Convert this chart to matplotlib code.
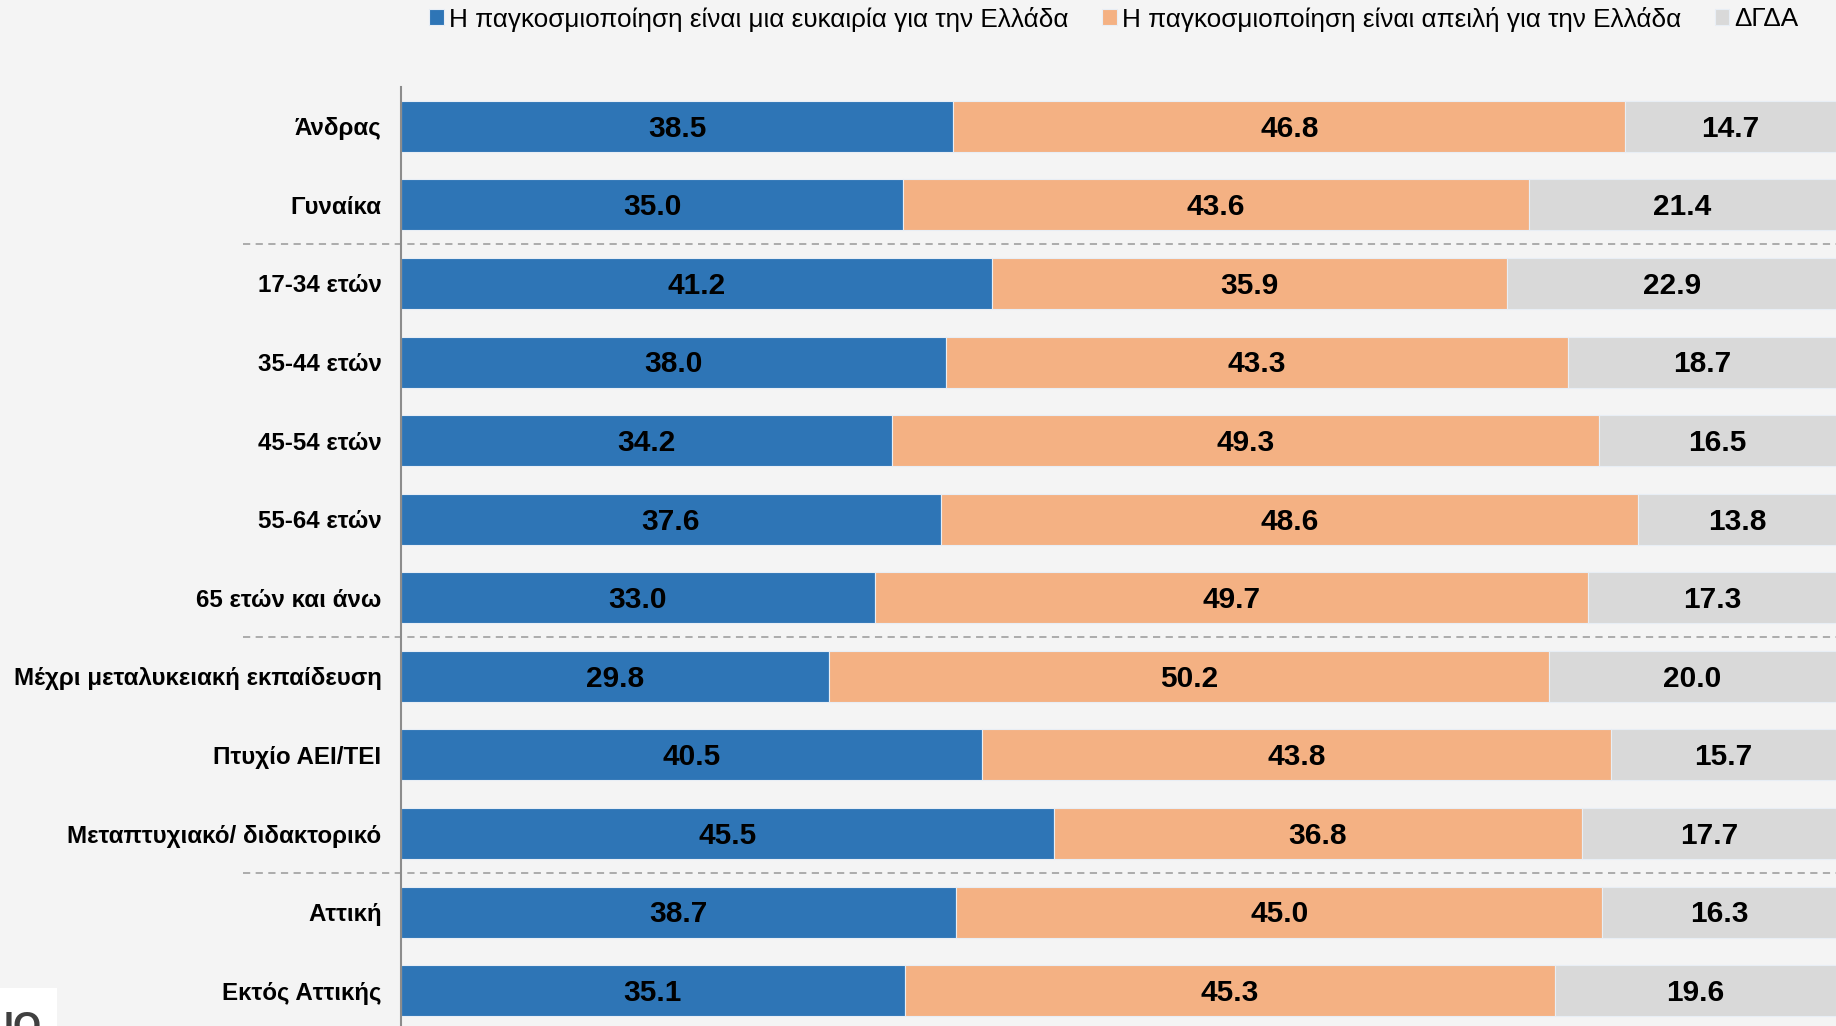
import matplotlib.pyplot as plt
from matplotlib.patches import Rectangle

plt.rcParams['font.family'] = ['Liberation Sans', 'DejaVu Sans']

categories = ["Άνδρας", "Γυναίκα", "17-34 ετών", "35-44 ετών", "45-54 ετών",
              "55-64 ετών", "65 ετών και άνω", "Μέχρι μεταλυκειακή εκπαίδευση",
              "Πτυχίο ΑΕΙ/ΤΕΙ", "Μεταπτυχιακό/ διδακτορικό", "Αττική", "Εκτός Αττικής"]
opportunity = [38.5, 35.0, 41.2, 38.0, 34.2, 37.6, 33.0, 29.8, 40.5, 45.5, 38.7, 35.1]
threat = [46.8, 43.6, 35.9, 43.3, 49.3, 48.6, 49.7, 50.2, 43.8, 36.8, 45.0, 45.3]
dkna = [14.7, 21.4, 22.9, 18.7, 16.5, 13.8, 17.3, 20.0, 15.7, 17.7, 16.3, 19.6]
series_names = ["Η παγκοσμιοποίηση είναι μια ευκαιρία για την Ελλάδα",
                "Η παγκοσμιοποίηση είναι απειλή για την Ελλάδα",
                "ΔΓΔΑ"]
colors = ["#2e75b6", "#f4b183", "#d9d9d9"]
separators = [1.5, 6.5, 9.5]

bg = "#f4f4f4"
fig = plt.figure(figsize=(18.36, 10.26), dpi=100, facecolor=bg)
ax = fig.add_axes([401 / 1836, -4 / 1026, 1435 / 1836, (1026 - 87 + 4) / 1026])
ax.set_facecolor(bg)

y = list(range(len(categories)))
left = [0] * len(categories)
handles = []
for vals, col, name in zip([opportunity, threat, dkna], colors, series_names):
    bars = ax.barh(y, vals, left=left, height=0.65, color=col, edgecolor="#e8eef5",
                   linewidth=0.8, label=name)
    handles.append(bars)
    for yi, l, v in zip(y, left, vals):
        ax.text(l + v / 2, yi + 0.03, f"{v:.1f}", ha="center", va="center",
                fontsize=21.5, fontweight="bold", color="black")
    left = [a + b for a, b in zip(left, vals)]

ax.set_xlim(0, 100)
ax.set_ylim(len(categories) - 0.5, -0.5)
ax.set_yticks(y)
ax.set_yticklabels(categories, fontsize=17.4, fontweight="bold")
ax.tick_params(axis="y", length=0, pad=14)
ax.set_xticks([])
for s in ["top", "right", "bottom"]:
    ax.spines[s].set_visible(False)
ax.spines["left"].set_color("#8c8c8c")
ax.spines["left"].set_linewidth(1.5)

for sy in separators:
    ax.plot([-11, 100], [sy, sy], ls=(0, (4, 3)), color="#a6a6a6", lw=1.3,
            clip_on=False, zorder=0)

fig.legend(handles=handles, loc="center", bbox_to_anchor=(1114 / 1836, 1 - 19 / 1026),
           ncol=3, frameon=False, fontsize=18.8, handlelength=0.55, handleheight=0.55,
           handletextpad=0.2, columnspacing=1.3, borderaxespad=0)

# logo patch in the lower left corner
fig.patches.append(Rectangle((0, 0), 57 / 1836, 38 / 1026, transform=fig.transFigure,
                             facecolor="white", edgecolor="none"))
fig.text(4 / 1836, -12 / 1026, "ΙΟ", fontsize=26, fontweight="bold", color="#404040")

fig.savefig("out.png", dpi=100, facecolor=bg)
